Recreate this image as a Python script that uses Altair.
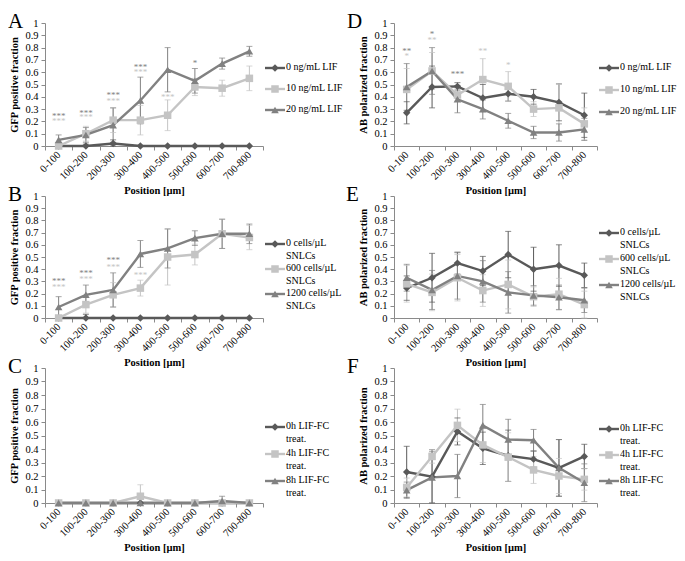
import altair as alt
import pandas as pd

FONT = "Liberation Serif"

cats = ["0-100", "100-200", "200-300", "300-400", "400-500", "500-600", "600-700", "700-800"]
y_ticks = [0, 0.1, 0.2, 0.3, 0.4, 0.5, 0.6, 0.7, 0.8, 0.9, 1]
series_colors = ["#595959", "#c4c4c4", "#818181"]
series_shapes = ["diamond", "square", "triangle-up"]
series_sizes = [55, 58, 70]
letters = ["A", "B", "C", "D", "E", "F"]
gfp_title = "GFP positive fraction"
ab_title = "AB polarized fraction"
x_title = "Position [µm]"

# ---------- Panel A : GFP, LIF ----------
a_labels = ["0 ng/mL LIF", "10 ng/mL LIF", "20 ng/mL LIF"]
a_s0 = [0.0, 0.0, 0.02, 0.0, 0.0, 0.0, 0.0, 0.0]
a_e0 = [0.0, 0.015, 0.03, 0.0, 0.0, 0.0, 0.0, 0.0]
a_s1 = [0.0, 0.10, 0.21, 0.21, 0.25, 0.48, 0.47, 0.55]
a_e1 = [0.02, 0.06, 0.10, 0.12, 0.125, 0.07, 0.065, 0.10]
a_s2 = [0.05, 0.09, 0.17, 0.37, 0.62, 0.53, 0.67, 0.77]
a_e2 = [0.04, 0.06, 0.14, 0.19, 0.18, 0.10, 0.045, 0.04]
a_star_cat = ["0-100", "0-100", "100-200", "100-200", "200-300", "200-300", "300-400", "300-400", "400-500", "500-600"]
a_star_val = [0.25, 0.21, 0.28, 0.24, 0.42, 0.37, 0.65, 0.61, 0.41, 0.685]
a_star_txt = ["***", "***", "***", "***", "***", "***", "***", "***", "***", "*"]
a_star_sid = [2, 1, 2, 1, 2, 1, 2, 1, 1, 2]

# ---------- Panel B : GFP, SNLCs ----------
b_labels = ["0 cells/µL\nSNLCs", "600 cells/µL\nSNLCs", "1200 cells/µL\nSNLCs"]
b_s0 = [0.0, 0.0, 0.0, 0.0, 0.0, 0.0, 0.0, 0.0]
b_e0 = [0.0, 0.03, 0.0, 0.0, 0.0, 0.0, 0.0, 0.0]
b_s1 = [0.0, 0.11, 0.19, 0.245, 0.50, 0.52, 0.69, 0.66]
b_e1 = [0.01, 0.07, 0.10, 0.065, 0.23, 0.085, 0.12, 0.10]
b_s2 = [0.09, 0.19, 0.23, 0.525, 0.57, 0.655, 0.69, 0.69]
b_e2 = [0.085, 0.08, 0.14, 0.11, 0.16, 0.06, 0.12, 0.08]
b_star_cat = ["0-100", "0-100", "100-200", "100-200", "200-300", "200-300", "300-400"]
b_star_val = [0.31, 0.26, 0.38, 0.33, 0.48, 0.43, 0.36]
b_star_txt = ["***", "***", "***", "***", "***", "***", "***"]
b_star_sid = [2, 1, 2, 1, 2, 1, 1]

# ---------- Panel C : GFP, LIF-FC treatment ----------
c_labels = ["0h LIF-FC\ntreat.", "4h LIF-FC\ntreat.", "8h LIF-FC\ntreat."]
c_s0 = [0.0, 0.0, 0.0, 0.0, 0.0, 0.0, 0.0, 0.0]
c_e0 = [0.0, 0.0, 0.0, 0.0, 0.0, 0.0, 0.0, 0.0]
c_s1 = [0.0, 0.0, 0.0, 0.05, 0.0, 0.0, 0.0, 0.0]
c_e1 = [0.0, 0.0, 0.0, 0.085, 0.0, 0.0, 0.0, 0.0]
c_s2 = [0.0, 0.0, 0.0, 0.0, 0.0, 0.0, 0.015, 0.0]
c_e2 = [0.0, 0.0, 0.0, 0.0, 0.0, 0.0, 0.035, 0.0]

# ---------- Panel D : AB, LIF ----------
d_labels = a_labels
d_s0 = [0.27, 0.48, 0.485, 0.39, 0.425, 0.40, 0.355, 0.25]
d_e0 = [0.09, 0.17, 0.03, 0.11, 0.06, 0.06, 0.15, 0.18]
d_s1 = [0.46, 0.61, 0.415, 0.54, 0.485, 0.30, 0.31, 0.18]
d_e1 = [0.17, 0.15, 0.05, 0.17, 0.12, 0.06, 0.19, 0.13]
d_s2 = [0.48, 0.61, 0.38, 0.30, 0.205, 0.11, 0.11, 0.135]
d_e2 = [0.19, 0.19, 0.11, 0.08, 0.06, 0.05, 0.07, 0.09]
d_star_cat = ["0-100", "0-100", "100-200", "100-200", "200-300", "300-400", "400-500"]
d_star_val = [0.78, 0.74, 0.92, 0.87, 0.595, 0.78, 0.67]
d_star_txt = ["**", "*", "*", "**", "***", "**", "*"]
d_star_sid = [2, 1, 2, 1, 2, 1, 1]

# ---------- Panel E : AB, SNLCs ----------
e_labels = b_labels
e_s0 = [0.245, 0.33, 0.45, 0.385, 0.52, 0.40, 0.43, 0.35]
e_e0 = [0.10, 0.20, 0.09, 0.12, 0.19, 0.18, 0.17, 0.10]
e_s1 = [0.28, 0.21, 0.33, 0.225, 0.275, 0.175, 0.195, 0.11]
e_e1 = [0.15, 0.15, 0.19, 0.13, 0.20, 0.08, 0.13, 0.11]
e_s2 = [0.33, 0.23, 0.345, 0.30, 0.21, 0.185, 0.17, 0.145]
e_e2 = [0.11, 0.16, 0.19, 0.17, 0.17, 0.08, 0.10, 0.10]

# ---------- Panel F : AB, LIF-FC treatment ----------
f_labels = c_labels
f_s0 = [0.23, 0.195, 0.53, 0.405, 0.35, 0.325, 0.26, 0.345]
f_e0 = [0.19, 0.20, 0.10, 0.12, 0.19, 0.06, 0.21, 0.09]
f_s1 = [0.115, 0.345, 0.575, 0.43, 0.34, 0.245, 0.20, 0.175]
f_e1 = [0.07, 0.05, 0.12, 0.13, 0.18, 0.10, 0.13, 0.08]
f_s2 = [0.095, 0.19, 0.20, 0.575, 0.47, 0.465, 0.26, 0.15]
f_e2 = [0.06, 0.19, 0.16, 0.155, 0.15, 0.08, 0.21, 0.14]

AXIS_COLOR = "#8a8a8a"
FS = 10.5

color_enc = alt.Color("sid:N", scale=alt.Scale(domain=[0, 1, 2], range=series_colors), legend=None)
shape_enc = alt.Shape("sid:N", scale=alt.Scale(domain=[0, 1, 2], range=series_shapes), legend=None)
size_enc = alt.Size("sid:N", scale=alt.Scale(domain=[0, 1, 2], range=series_sizes), legend=None)


def make_panel(letter, ytitle, series, errors, stars, w, h, letter_dx):
    rows = []
    for sid, (vals, errs) in enumerate(zip(series, errors)):
        for c, v, e in zip(cats, vals, errs):
            rows.append(dict(cat=c, sid=sid, val=v, err=e, lo=max(v - e, 0), hi=v + e))
    df = pd.DataFrame(rows)
    edf = df[df["err"] > 0]

    xaxis = alt.Axis(title=x_title, labelAngle=-45, labelAlign="right", labelBaseline="middle",
                     tickBand="extent", tickSize=4, labelPadding=3, domainColor=AXIS_COLOR,
                     tickColor=AXIS_COLOR, labelFont=FONT, labelFontSize=FS, labelColor="#000",
                     titleFont=FONT, titleFontSize=FS, titleFontWeight="bold", titleColor="#000",
                     titlePadding=4, labelOverlap=False)
    xscale = alt.Scale(type="band", domain=cats, paddingInner=0, paddingOuter=0)
    yaxis = alt.Axis(title=ytitle, values=y_ticks, format="~g", grid=False, tickSize=4,
                     domainColor=AXIS_COLOR, tickColor=AXIS_COLOR, labelFont=FONT, labelFontSize=FS,
                     labelColor="#000", labelPadding=3, titleFont=FONT, titleFontSize=FS,
                     titleFontWeight="bold", titleColor="#000", titlePadding=5)
    yscale = alt.Scale(domain=[0, 1], nice=False)

    def X():
        return alt.X("cat:N", sort=cats, scale=xscale, bandPosition=0.5, axis=xaxis)

    def Y(field):
        return alt.Y(f"{field}:Q", scale=yscale, axis=yaxis, title=ytitle)

    ebar = alt.Chart(edf).mark_rule(strokeWidth=1).encode(x=X(), y=Y("lo"), y2="hi:Q", color=color_enc)
    cap_lo = alt.Chart(edf).mark_tick(orient="horizontal", size=6, thickness=1).encode(
        x=X(), y=Y("lo"), color=color_enc)
    cap_hi = alt.Chart(edf).mark_tick(orient="horizontal", size=6, thickness=1).encode(
        x=X(), y=Y("hi"), color=color_enc)
    line = alt.Chart(df).mark_line(strokeWidth=2.4).encode(x=X(), y=Y("val"), color=color_enc)
    pts = alt.Chart(df).mark_point(filled=True, opacity=1).encode(
        x=X(), y=Y("val"), color=color_enc, shape=shape_enc, size=size_enc)
    layers = [ebar, cap_lo, cap_hi, line, pts]
    if stars is not None:
        sc, sv, st, ss = stars
        sdf = pd.DataFrame(dict(cat=sc, val=sv, txt=st, sid=ss))
        layers.append(alt.Chart(sdf).mark_text(font=FONT, fontSize=9, baseline="alphabetic", dy=4).encode(
            x=X(), y=Y("val"), text="txt:N", color=color_enc))
    lt = alt.Chart(pd.DataFrame({"t": [letter]})).mark_text(
        font=FONT, fontSize=21, align="left", baseline="alphabetic", color="#000").encode(
        x=alt.value(letter_dx), y=alt.value(5), text="t:N")
    layers.append(lt)
    return alt.layer(*layers).properties(width=w, height=h)


def make_legend(labels, w, h, y0, step):
    ldf = pd.DataFrame(dict(sid=[0, 1, 2], label=labels))
    yenc = alt.Y("sid:O", scale=alt.Scale(type="point", domain=[0, 1, 2], range=[y0, y0 + 2 * step], padding=0),
                 axis=None)
    rule = alt.Chart(ldf).mark_rule(strokeWidth=2.4).encode(
        x=alt.value(0), x2=alt.value(20), y=yenc, color=color_enc)
    pt = alt.Chart(ldf).mark_point(filled=True, opacity=1).encode(
        x=alt.value(10), y=yenc, color=color_enc, shape=shape_enc, size=size_enc)
    txt = alt.Chart(ldf).mark_text(font=FONT, fontSize=10, align="left", baseline="top", dy=-6,
                                   lineBreak="\n", lineHeight=13, color="#000").encode(
        x=alt.value(21), y=yenc, text="label:N")
    return alt.layer(rule, pt, txt).properties(width=w, height=h)


W1, W2 = 218, 203
WL1, WL2 = 127, 76
H1, H2, H3 = 123, 122, 135

pA = make_panel(letters[0], gfp_title, [a_s0, a_s1, a_s2], [a_e0, a_e1, a_e2],
                (a_star_cat, a_star_val, a_star_txt, a_star_sid), W1, H1, -37)
pB = make_panel(letters[1], gfp_title, [b_s0, b_s1, b_s2], [b_e0, b_e1, b_e2],
                (b_star_cat, b_star_val, b_star_txt, b_star_sid), W1, H2, -37)
pC = make_panel(letters[2], gfp_title, [c_s0, c_s1, c_s2], [c_e0, c_e1, c_e2], None, W1, H3, -37)
pD = make_panel(letters[3], ab_title, [d_s0, d_s1, d_s2], [d_e0, d_e1, d_e2],
                (d_star_cat, d_star_val, d_star_txt, d_star_sid), W2, H1, -47)
pE = make_panel(letters[4], ab_title, [e_s0, e_s1, e_s2], [e_e0, e_e1, e_e2], None, W2, H2, -48)
pF = make_panel(letters[5], ab_title, [f_s0, f_s1, f_s2], [f_e0, f_e1, f_e2], None, W2, H3, -47)

lA = make_legend(a_labels, WL1, H1, 45, 21)
lD = make_legend(d_labels, WL2, H1, 45, 22)
lB = make_legend(b_labels, WL1, H2, 48, 25)
lE = make_legend(e_labels, WL2, H2, 37, 26)
lC = make_legend(c_labels, WL1, H3, 59, 27)
lF = make_legend(f_labels, WL2, H3, 61, 26)

chart = alt.concat(pA, lA, pD, lD, pB, lB, pE, lE, pC, lC, pF, lF,
                   columns=4, spacing={"row": 50, "column": 2}, bounds="flush").properties(
    padding={"top": 3, "left": 0, "right": 0, "bottom": 0}).configure_view(stroke=None)

chart.save("out.html", embed_options={"renderer": "svg", "actions": False})
